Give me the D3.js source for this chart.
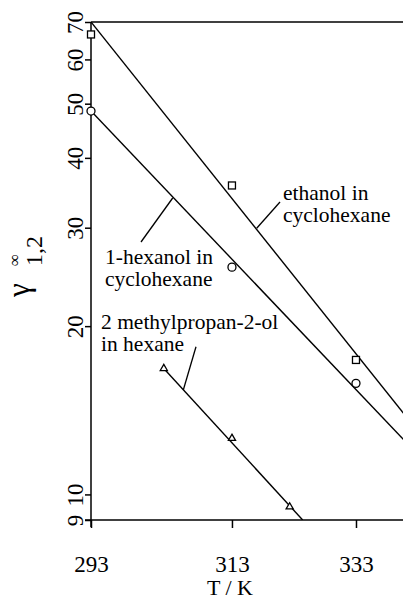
<!DOCTYPE html>
<html>
<head>
<meta charset="utf-8">
<script src="https://cdn.jsdelivr.net/npm/d3@7"></script>
<style>
  html, body { margin: 0; padding: 0; background: #fff; }
  svg { display: block; }
  svg text { font-family: 'Liberation Serif', 'Times New Roman', serif; fill: #000; }
</style>
</head>
<body>
<svg id="chart" width="403" height="600"></svg>
<script>
// Infinite-dilution activity coefficients vs temperature (1/T axis, log gamma)
const temps = [293, 313, 333];
const ethanolGamma = [66.5, 35.7, 17.4];
const hexanolGamma = [48.5, 25.5, 15.8];
const methylTemps = [303, 313, 322];
const methylGamma = [16.8, 12.6, 9.5];

// correlation lines (end points)
const ethanolFitT = [293, 345];
const ethanolFitGamma = [70, 12.6];
const hexanolFitT = [293, 345];
const hexanolFitGamma = [48.5, 11.5];
const methylFitT = [303, 324.1];
const methylFitGamma = [16.8, 9.0];

const xTicks = [293, 313, 333];
const yTicks = [9, 10, 20, 30, 40, 50, 60, 70];

const serif = "'Liberation Serif', 'Times New Roman', serif";
const svg = d3.select("#chart");
const plotLeft = 91, plotTop = 22, plotBottom = 520;

// temperature axis is linear in 1/T
const xInv = d3.scaleLinear().domain([1 / 293, 1 / 345]).range([plotLeft, 423.5]);
const x = t => xInv(1 / t);
const y = d3.scaleLog().domain([9, 70]).range([plotBottom, plotTop]);

// frame top line
svg.append("line")
  .attr("x1", plotLeft).attr("x2", 430)
  .attr("y1", plotTop).attr("y2", plotTop)
  .attr("stroke", "#000").attr("stroke-width", 1.5);

// x axis
const xAxis = d3.axisBottom(xInv)
  .tickValues(xTicks.map(t => 1 / t))
  .tickFormat(d => Math.round(1 / d))
  .tickSize(8).tickSizeOuter(0);
const gx = svg.append("g").attr("transform", `translate(0,${plotBottom})`).call(xAxis)
  .attr("font-family", serif);
gx.select(".domain").attr("d", `M${plotLeft - 6},0H430`).attr("stroke-width", 1.5);
gx.selectAll(".tick line").attr("stroke-width", 1.5);
gx.selectAll(".tick text")
  .attr("y", 52).attr("dy", null)
  .attr("font-size", 23);

// y axis
const yAxis = d3.axisLeft(y).tickValues(yTicks).tickFormat(d3.format("d"))
  .tickSize(6).tickSizeOuter(0);
const gy = svg.append("g").attr("transform", `translate(${plotLeft},0)`).call(yAxis)
  .attr("font-family", serif);
gy.select(".domain").attr("d", `M0,${plotTop}V${plotBottom + 7}`).attr("stroke-width", 1.5);
gy.selectAll(".tick line").attr("stroke-width", 1.5);
gy.selectAll(".tick text")
  .attr("x", null).attr("dy", null)
  .attr("text-anchor", "middle")
  .attr("transform", "translate(-8,0) rotate(-90)")
  .attr("font-size", 23);

// axis titles
svg.append("text")
  .attr("x", 230).attr("y", 595)
  .attr("text-anchor", "middle")
  .attr("font-size", 22)
  .text("T / K");

const yTitle = svg.append("g");
yTitle.append("text")
  .attr("transform", "translate(29,297) rotate(-90)")
  .attr("font-size", 31)
  .text("γ");
yTitle.append("text")
  .attr("transform", "translate(20,266) rotate(-90)")
  .attr("font-size", 17)
  .text("∞");
yTitle.append("text")
  .attr("transform", "translate(42,266) rotate(-90)")
  .attr("font-size", 24)
  .text("1,2");

// correlation lines
const line = d3.line().x(d => x(d[0])).y(d => y(d[1]));
svg.append("defs").append("clipPath").attr("id", "plot")
  .append("rect").attr("x", plotLeft).attr("y", plotTop)
  .attr("width", 400).attr("height", plotBottom - plotTop);

const fits = [
  [ethanolFitT, ethanolFitGamma],
  [hexanolFitT, hexanolFitGamma],
  [methylFitT, methylFitGamma]
];
svg.append("g").attr("clip-path", "url(#plot)")
  .selectAll("path").data(fits).join("path")
  .attr("d", f => line(d3.zip(f[0], f[1])))
  .attr("fill", "none").attr("stroke", "#000").attr("stroke-width", 1.4);

// markers
const mk = svg.append("g").attr("fill", "#fff").attr("stroke", "#000").attr("stroke-width", 1.3);
mk.selectAll("rect").data(d3.zip(temps, ethanolGamma)).join("rect")
  .attr("x", d => x(d[0]) - 3.5).attr("y", d => y(d[1]) - 3.5)
  .attr("width", 7).attr("height", 7);
mk.selectAll("circle").data(d3.zip(temps, hexanolGamma)).join("circle")
  .attr("cx", d => x(d[0])).attr("cy", d => y(d[1])).attr("r", 4);
mk.selectAll("path").data(d3.zip(methylTemps, methylGamma)).join("path")
  .attr("d", d3.symbol(d3.symbolTriangle, 22))
  .attr("transform", d => `translate(${x(d[0])},${y(d[1])})`);

// series labels with leader lines
const labels = [
  { lines: ["ethanol in", "cyclohexane"], x: 283, y: 200, lead: [[280, 202], [256.7, 228.3]] },
  { lines: ["1-hexanol in", "cyclohexane"], x: 105, y: 264, lead: [[141, 242], [172.7, 198]] },
  { lines: ["2 methylpropan-2-ol", "in hexane"], x: 101, y: 329, lead: [[196, 346.7], [183.3, 390]] }
];
labels.forEach(l => {
  const t = svg.append("text").attr("font-size", 21.5);
  l.lines.forEach((s, i) => t.append("tspan").attr("x", l.x).attr("y", l.y + i * 21.5).text(s));
  svg.append("line")
    .attr("x1", l.lead[0][0]).attr("y1", l.lead[0][1])
    .attr("x2", l.lead[1][0]).attr("y2", l.lead[1][1])
    .attr("stroke", "#000").attr("stroke-width", 1.3);
});
</script>
</body>
</html>
